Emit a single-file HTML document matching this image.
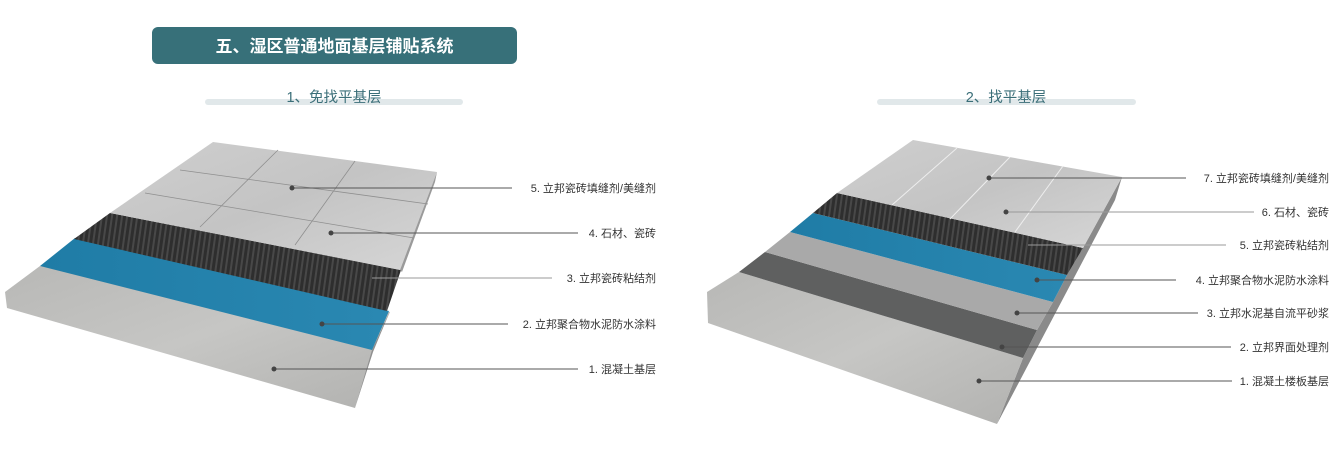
<!DOCTYPE html>
<html><head><meta charset="utf-8"><style>
html,body{margin:0;padding:0;background:#fff;}
body{width:1330px;height:454px;overflow:hidden;position:relative;font-family:"Liberation Sans","Noto Sans CJK SC",sans-serif;}
svg text{font-family:"Liberation Sans","Noto Sans CJK SC",sans-serif;}
</style></head><body>
<svg width="1330" height="454" viewBox="0 0 1330 454" xmlns="http://www.w3.org/2000/svg">
<defs>
<linearGradient id="conc" x1="0" y1="0" x2="1" y2="1"><stop offset="0" stop-color="#b8b8b6"/><stop offset="0.5" stop-color="#c6c6c4"/><stop offset="1" stop-color="#b2b2b0"/></linearGradient>
<linearGradient id="tile" x1="0" y1="0" x2="1" y2="1"><stop offset="0" stop-color="#cfcfcf"/><stop offset="0.5" stop-color="#c4c4c4"/><stop offset="1" stop-color="#d6d6d6"/></linearGradient>
<linearGradient id="blue" x1="0" y1="0" x2="1" y2="0"><stop offset="0" stop-color="#1f7ca6"/><stop offset="1" stop-color="#2a88b2"/></linearGradient>
<pattern id="rib" width="5" height="5" patternUnits="userSpaceOnUse" patternTransform="rotate(8)"><rect width="5" height="5" fill="#2e2e2e"/><rect width="2" height="5" fill="#484848"/></pattern>
</defs>
<!-- header -->
<rect x="152" y="27" width="365" height="37" rx="6" fill="#377079"/>
<text x="334.5" y="52" font-size="17" font-weight="bold" fill="#fff" text-anchor="middle">五、湿区普通地面基层铺贴系统</text>
<rect x="205" y="99" width="258" height="6" rx="3" fill="#e1e8ea"/>
<text x="334" y="102" font-size="14.5" fill="#3a6e78" text-anchor="middle">1、免找平基层</text>
<rect x="877" y="99" width="259" height="6" rx="3" fill="#e1e8ea"/>
<text x="1006" y="102" font-size="14.5" fill="#3a6e78" text-anchor="middle">2、找平基层</text>

<!-- LEFT diagram -->
<polygon points="5,292 40,266 390,312 372,352 355,408 7,308" fill="url(#conc)"/>
<polygon points="372,350 390,311 373,352 355,408" fill="#8f8f8f"/>
<polygon points="40,266 75,238 389,311 372,350" fill="url(#blue)"/>
<polygon points="74,239 110,213 401,270 387,311" fill="url(#rib)"/>
<polygon points="110,213 213,142 437,172 400,270" fill="url(#tile)"/>
<polygon points="400,270 437,172 435,182 402,272" fill="#9a9a9a"/>
<g stroke="#8f8f8f" stroke-width="0.8">
<line x1="278" y1="150" x2="200" y2="227"/><line x1="355" y1="161" x2="295" y2="245"/>
<line x1="180" y1="170" x2="428" y2="204"/><line x1="145" y1="193" x2="414" y2="238"/>
</g>
<!-- right diagram -->
<polygon points="1122,177 1115,200 997,424 1023,358 1037,330 1053,302 1067,275 1083,248" fill="#8a8a8a"/>
<polygon points="707,292 739,272 1023,358 997,424 708,323" fill="url(#conc)"/>
<polygon points="739,272 765,252 1037,330 1023,358" fill="#5f6060"/>
<polygon points="765,252 790,232 1053,302 1037,330" fill="#a9a9a9"/>
<polygon points="790,232 813,213 1067,275 1053,302" fill="url(#blue)"/>
<polygon points="813,213 837,193 1083,248 1067,275" fill="url(#rib)"/>
<polygon points="837,193 913,140 1122,177 1083,248" fill="url(#tile)"/>
<g stroke="#eeeeee" stroke-width="1">
<line x1="957" y1="148" x2="892" y2="205"/><line x1="1010" y1="157" x2="950" y2="219"/><line x1="1063" y1="166" x2="1015" y2="232"/>
</g>
<!-- leader lines -->
<g stroke="#555" stroke-width="1">
<line x1="292" y1="188" x2="512" y2="188"/>
<line x1="331" y1="233" x2="578" y2="233"/>
<line x1="372" y1="278" x2="552" y2="278" stroke="#999"/>
<line x1="322" y1="324" x2="508" y2="324"/>
<line x1="274" y1="369" x2="578" y2="369"/>
<line x1="989" y1="178" x2="1186" y2="178"/>
<line x1="1006" y1="212" x2="1254" y2="212" stroke="#999"/>
<line x1="1028" y1="245" x2="1226" y2="245" stroke="#999"/>
<line x1="1037" y1="280" x2="1176" y2="280"/>
<line x1="1017" y1="313" x2="1198" y2="313"/>
<line x1="1002" y1="347" x2="1231" y2="347"/>
<line x1="979" y1="381" x2="1232" y2="381"/>
</g>
<g fill="#444">
<circle cx="292" cy="188" r="2.5"/><circle cx="331" cy="233" r="2.5"/><circle cx="322" cy="324" r="2.5"/><circle cx="274" cy="369" r="2.5"/>
<circle cx="989" cy="178" r="2.5"/><circle cx="1006" cy="212" r="2.5"/><circle cx="1037" cy="280" r="2.5"/><circle cx="1017" cy="313" r="2.5"/><circle cx="1002" cy="347" r="2.5"/><circle cx="979" cy="381" r="2.5"/>
</g>
<g font-size="11" fill="#333" text-anchor="end">
<text x="656" y="192">5. 立邦瓷砖填缝剂/美缝剂</text>
<text x="656" y="237">4. 石材、瓷砖</text>
<text x="656" y="282">3. 立邦瓷砖粘结剂</text>
<text x="656" y="328">2. 立邦聚合物水泥防水涂料</text>
<text x="656" y="373">1. 混凝土基层</text>
<text x="1329" y="182">7. 立邦瓷砖填缝剂/美缝剂</text>
<text x="1329" y="216">6. 石材、瓷砖</text>
<text x="1329" y="249">5. 立邦瓷砖粘结剂</text>
<text x="1329" y="284">4. 立邦聚合物水泥防水涂料</text>
<text x="1329" y="317">3. 立邦水泥基自流平砂浆</text>
<text x="1329" y="351">2. 立邦界面处理剂</text>
<text x="1329" y="385">1. 混凝土楼板基层</text>
</g>
</svg>
</body></html>
